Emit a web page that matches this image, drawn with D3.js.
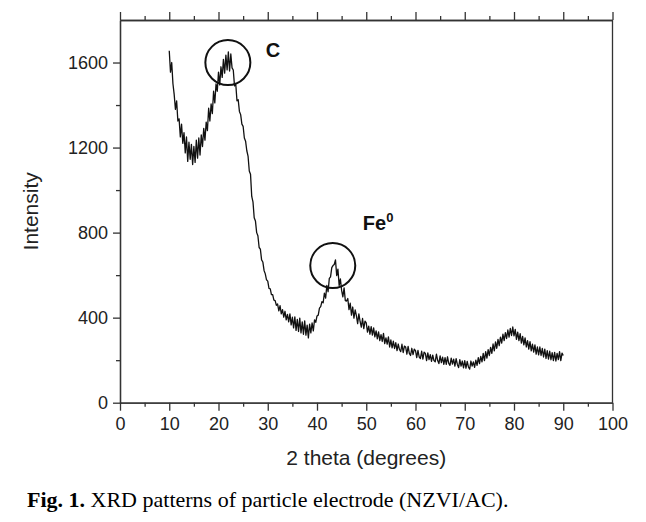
<!DOCTYPE html>
<html>
<head>
<meta charset="utf-8">
<script src="https://cdn.jsdelivr.net/npm/d3@7"></script>
<style>
  body { margin: 0; background: #fff; }
  .axis text { font-family: "Liberation Sans", Arial, sans-serif; font-size: 18px; fill: #222; }
  .axis path, .axis line { stroke: #333; stroke-width: 1.3; }
</style>
</head>
<body>
<div id="chart"></div>
<script>
// 2 theta start / step of the scan (degrees)
var thetaStart = 10,
  thetaStep = 0.25;

// intensity, one value per 0.25 degree from 10 to 90
var intensity = [
  1655, 1555, 1600, 1500, 1450, 1380, 1420, 1325, 1335, 1250, 1310, 1220,
  1270, 1175, 1250, 1135, 1225, 1145, 1215, 1120, 1205, 1130, 1235, 1150,
  1245, 1165, 1260, 1205, 1290, 1235, 1320, 1280, 1385, 1325, 1405, 1360,
  1465, 1410, 1500, 1465, 1555, 1495, 1580, 1530, 1615, 1550, 1635, 1565,
  1650, 1560, 1640, 1575, 1565, 1490, 1500, 1420, 1425, 1370, 1355, 1310,
  1300, 1245, 1230, 1185, 1160, 1090, 1075, 970, 945, 870, 855, 800,
  785, 730, 722, 672, 662, 622, 606, 578, 572, 538, 536, 508,
  508, 482, 480, 458, 464, 432, 456, 418, 438, 402, 430, 390,
  415, 380, 418, 366, 402, 352, 404, 340, 392, 335, 398, 328,
  380, 322, 385, 318, 365, 305, 370, 328, 375, 338, 390, 378,
  408, 412, 445, 452, 475, 470, 515, 492, 552, 522, 585, 592,
  635, 645, 650, 672, 598, 628, 552, 582, 528, 498, 540, 480,
  478, 490, 438, 468, 412, 450, 398, 436, 410, 372, 418, 382,
  355, 396, 348, 384, 375, 332, 360, 322, 358, 318, 352, 310,
  338, 300, 333, 292, 320, 288, 326, 278, 305, 275, 310, 262,
  295, 258, 290, 255, 282, 245, 276, 250, 240, 275, 236, 266,
  262, 228, 265, 232, 222, 256, 226, 252, 245, 212, 246, 215,
  208, 242, 205, 238, 232, 198, 234, 203, 226, 194, 224, 198,
  192, 228, 198, 184, 220, 188, 214, 180, 212, 180, 216, 185,
  176, 210, 182, 205, 172, 207, 180, 165, 203, 172, 196, 164,
  198, 162, 194, 168, 158, 196, 172, 192, 166, 200, 176, 212,
  184, 218, 192, 232, 198, 240, 210, 250, 222, 260, 232, 276,
  244, 286, 256, 298, 268, 308, 280, 322, 292, 330, 302, 342,
  308, 350, 316, 356, 314, 345, 298, 332, 292, 325, 280, 312,
  272, 305, 262, 292, 252, 287, 244, 275, 238, 272, 228, 262,
  225, 262, 222, 255, 215, 252, 208, 245, 205, 242, 202, 235,
  198, 237, 196, 232, 203, 240, 198, 233, 222
];

// axis ticks
var xMajor = [0, 10, 20, 30, 40, 50, 60, 70, 80, 90, 100],
  xMinor = [5, 15, 25, 35, 45, 55, 65, 75, 85, 95],
  yMajor = [0, 400, 800, 1200, 1600],
  yMinor = [200, 600, 1000, 1400];

// circled peaks and their labels
var peaks = [
  { theta: 21.9, value: 1600, label: "C", lx: 29.6, ly: 1624 },
  { theta: 43.2, value: 645, label: "Fe", sup: "0", lx: 49.3, ly: 813 }
];

var caption = "XRD patterns of particle electrode (NZVI/AC).";

var W = 646, H = 522;
var margin = { top: 20, left: 120, right: 33.5, bottom: 119.3 };

var svg = d3.select("#chart").append("svg")
  .attr("width", W)
  .attr("height", H);

svg.append("rect").attr("width", W).attr("height", H).attr("fill", "#fff");

var x = d3.scaleLinear().domain([0, 100]).range([margin.left, W - margin.right]);
var y = d3.scaleLinear().domain([0, 1800]).range([H - margin.bottom, margin.top]);

var data = intensity.map(function (v, i) {
  return { t: thetaStart + i * thetaStep, v: v };
});

// frame: right side has no ticks
svg.append("line")
  .attr("x1", x(100)).attr("x2", x(100))
  .attr("y1", y(0)).attr("y2", y(1800))
  .attr("stroke", "#333").attr("stroke-width", 1.3);

// bottom axis
svg.append("g").attr("class", "axis")
  .attr("transform", "translate(0," + y(0) + ")")
  .call(d3.axisBottom(x).tickValues(xMajor).tickSize(8).tickPadding(7).tickSizeOuter(0));
svg.append("g").attr("class", "axis")
  .attr("transform", "translate(0," + y(0) + ")")
  .call(d3.axisBottom(x).tickValues(xMinor).tickSize(4).tickFormat("").tickSizeOuter(0));

// top axis
svg.append("g").attr("class", "axis")
  .attr("transform", "translate(0," + y(1800) + ")")
  .call(d3.axisTop(x).tickValues(xMajor).tickSize(8).tickFormat("").tickSizeOuter(0));
svg.append("g").attr("class", "axis")
  .attr("transform", "translate(0," + y(1800) + ")")
  .call(d3.axisTop(x).tickValues(xMinor).tickSize(4).tickFormat("").tickSizeOuter(0));

// left axis
svg.append("g").attr("class", "axis")
  .attr("transform", "translate(" + x(0) + ",0)")
  .call(d3.axisLeft(y).tickValues(yMajor).tickFormat(d3.format("d")).tickSize(7).tickPadding(5).tickSizeOuter(0));
svg.append("g").attr("class", "axis")
  .attr("transform", "translate(" + x(0) + ",0)")
  .call(d3.axisLeft(y).tickValues(yMinor).tickSize(4).tickFormat("").tickSizeOuter(0));

// pattern
svg.append("path")
  .datum(data)
  .attr("fill", "none")
  .attr("stroke", "#111")
  .attr("stroke-width", 1.3)
  .attr("stroke-linejoin", "round")
  .attr("d", d3.line().x(function (d) { return x(d.t); }).y(function (d) { return y(d.v); }));

// peak circles and labels
svg.selectAll(".peak")
  .data(peaks)
  .enter()
  .append("circle")
  .attr("cx", function (d) { return x(d.theta); })
  .attr("cy", function (d) { return y(d.value); })
  .attr("r", 22.5)
  .attr("fill", "none")
  .attr("stroke", "#111")
  .attr("stroke-width", 2);

var lab = svg.selectAll(".peaklabel")
  .data(peaks)
  .enter()
  .append("text")
  .attr("x", function (d) { return x(d.lx); })
  .attr("y", function (d) { return y(d.ly); })
  .attr("font-family", "'Liberation Sans', Arial, sans-serif")
  .attr("font-weight", "bold")
  .attr("font-size", 20)
  .attr("fill", "#111");
lab.append("tspan").text(function (d) { return d.label; });
lab.filter(function (d) { return d.sup; })
  .append("tspan")
  .attr("dy", -8)
  .attr("font-size", 13)
  .text(function (d) { return d.sup; });

// axis titles
svg.append("text")
  .attr("x", (x(0) + x(100)) / 2)
  .attr("y", 465)
  .attr("text-anchor", "middle")
  .attr("font-family", "'Liberation Sans', Arial, sans-serif")
  .attr("font-size", 21)
  .attr("fill", "#222")
  .text("2 theta (degrees)");

svg.append("text")
  .attr("transform", "translate(38," + (y(0) + y(1800)) / 2 + ") rotate(-90)")
  .attr("text-anchor", "middle")
  .attr("font-family", "'Liberation Sans', Arial, sans-serif")
  .attr("font-size", 21)
  .attr("fill", "#222")
  .text("Intensity");

// caption
var cap = svg.append("text")
  .attr("x", 27)
  .attr("y", 507)
  .attr("font-family", "'Liberation Serif', 'Times New Roman', serif")
  .attr("font-size", 22)
  .attr("fill", "#000");
cap.append("tspan").attr("font-weight", "bold").text("Fig. 1.");
cap.append("tspan").text(" " + caption);
</script>
</body>
</html>
